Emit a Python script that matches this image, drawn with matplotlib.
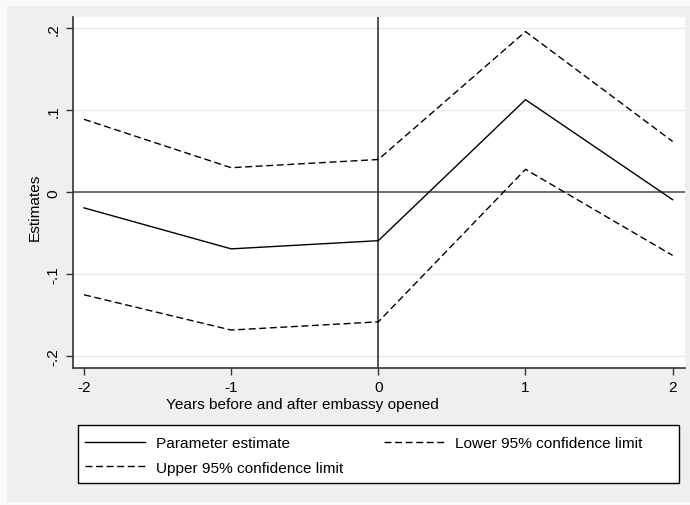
import matplotlib
matplotlib.use("Agg")
import matplotlib.pyplot as plt
from matplotlib.patches import Rectangle

years = [-2, -1, 0, 1, 2]
estimate = [-0.019, -0.069, -0.059, 0.113, -0.009]
upper = [0.089, 0.030, 0.040, 0.196, 0.062]
lower = [-0.125, -0.168, -0.158, 0.028, -0.077]
yticks = [-0.2, -0.1, 0, 0.1, 0.2]
ytick_labels = ["-.2", "-.1", "0", ".1", ".2"]

plt.rcParams['font.family'] = ['Liberation Sans', 'DejaVu Sans']
plt.rcParams['lines.scale_dashes'] = False
fs = 11.1
dash = (0, (5.0, 2.6))

fig = plt.figure(figsize=(6.9, 5.06), dpi=100)
fig.patch.set_facecolor('#fafafa')
# inner graph region (stata style)
fig.patches.append(Rectangle((7/690, 3/506), 1, 1 - 10/506, transform=fig.transFigure,
                             facecolor='#efefef', edgecolor='none', zorder=-10))
# legend box
fig.patches.append(Rectangle((78/690, 1 - 483.5/506), 600.7/690, 58/506,
                             transform=fig.transFigure, facecolor='white',
                             edgecolor='black', lw=1, zorder=-5))

ax = fig.add_axes([72.7/690, 1 - 369/506, 612/690, 351/506])
ax.set_facecolor('white')

for y in [-0.2, -0.1, 0.1, 0.2]:
    ax.axhline(y, color='#eaeaea', lw=1, zorder=1)
ax.axhline(0, color='#555555', lw=1.2, zorder=2)
ax.axvline(0, color='#333333', lw=1.2, zorder=2)

l1, = ax.plot(years, estimate, color='black', lw=1.0, label='Parameter estimate', zorder=3)
l2, = ax.plot(years, lower, color='black', lw=1.0, linestyle=dash,
              label='Lower 95% confidence limit', zorder=3)
l3, = ax.plot(years, upper, color='black', lw=1.0, linestyle=dash,
              label='Upper 95% confidence limit', zorder=3)

ax.set_xlim(-2.077, 2.082)
ax.set_ylim(-0.2143, 0.2138)
ax.set_xticks(years)
ax.set_xticklabels([str(v) for v in years], fontsize=fs)
ax.set_yticks(yticks)
ax.set_yticklabels(ytick_labels, fontsize=fs, rotation=90, va='center')
ax.tick_params(axis='both', direction='out', length=5, width=1, color='#333333', pad=4)

for s in ['top', 'right']:
    ax.spines[s].set_visible(False)
for s in ['left', 'bottom']:
    ax.spines[s].set_color('#333333')
    ax.spines[s].set_linewidth(1.2)

fig.text(302/690, 1 - 405/506, "Years before and after embassy opened",
         ha='center', va='center', fontsize=fs)
fig.text(34.5/690, 1 - 207/506, "Estimates", ha='center', va='center',
         rotation=90, fontsize=fs)

leg = fig.legend([l1, l3, l2],
                 ['Parameter estimate', 'Upper 95% confidence limit',
                  'Lower 95% confidence limit'],
                 ncol=2, loc='upper left',
                 bbox_to_anchor=(73.5/690, 1 - 425.5/506),
                 fontsize=fs, frameon=False,
                 handlelength=3.9, handletextpad=0.67, columnspacing=2.7,
                 labelspacing=0.68, borderpad=0.75, borderaxespad=0)

fig.savefig('out.png', dpi=100, facecolor=fig.get_facecolor())
